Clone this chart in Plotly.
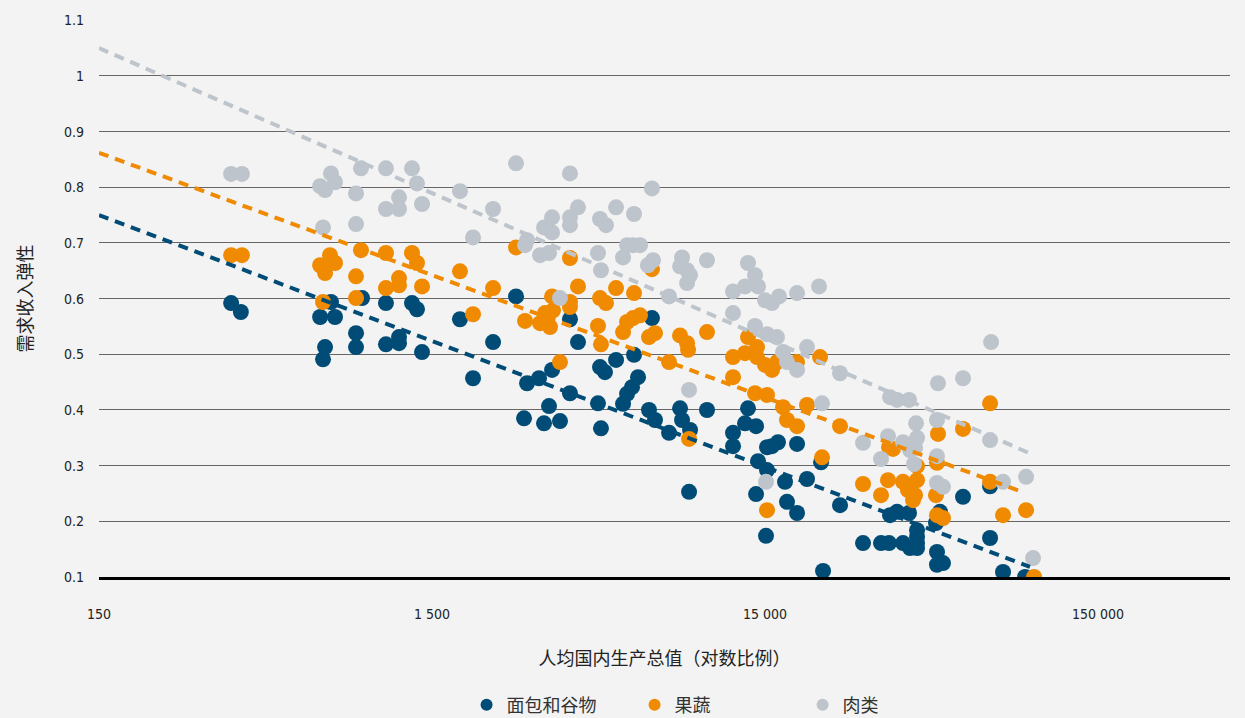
import plotly.graph_objects as go
import math

# ---------------- data ----------------
bread_gdp = [374, 400, 692, 706, 716, 746, 767, 887, 887, 925, 1091, 1091, 1194, 1194, 1306, 1352, 1400,
             1820, 1992, 2288, 2682, 2834, 2894, 3144, 3254, 3369, 3440, 3634, 3894, 3894, 4116, 4726, 4792,
             4825, 4960, 5355, 5620, 5778, 5980, 6064, 6234, 6724, 6865, 7009, 7726, 8336, 8452, 8871, 8932,
             10044, 12023, 12023, 13062, 13335, 14098, 14098, 14294, 15104, 15208, 15208, 15742, 16408, 17226,
             17462, 18718, 18718, 20057, 22096, 22404, 25197, 29540, 33449, 35354, 35599, 37367, 38949, 40598,
             40879, 42917, 42917, 42917, 42917, 49264, 50296, 48925, 49264, 51351, 58974, 71106, 71106, 77774, 90577]
bread_elas = [0.592, 0.576, 0.567, 0.491, 0.513, 0.594, 0.567, 0.538, 0.513, 0.601, 0.592, 0.518, 0.531, 0.520,
              0.592, 0.581, 0.504, 0.563, 0.457, 0.522, 0.604, 0.385, 0.448, 0.457, 0.376, 0.407, 0.472, 0.380,
              0.563, 0.430, 0.522, 0.412, 0.477, 0.367, 0.468, 0.490, 0.411, 0.429, 0.441, 0.499, 0.459, 0.400,
              0.565, 0.382, 0.359, 0.403, 0.382, 0.253, 0.364, 0.400, 0.359, 0.335, 0.376, 0.403, 0.371, 0.249,
              0.308, 0.174, 0.333, 0.292, 0.335, 0.342, 0.271, 0.235, 0.215, 0.339, 0.276, 0.306, 0.111, 0.229,
              0.161, 0.161, 0.161, 0.211, 0.217, 0.161, 0.215, 0.152, 0.152, 0.184, 0.172, 0.161, 0.145, 0.217,
              0.197, 0.122, 0.125, 0.244, 0.263, 0.170, 0.109, 0.100]

fruit_gdp = [374, 403, 692, 741, 767, 716, 706, 887, 887, 918, 1091, 1091, 1194, 1194, 1306, 1352, 1400,
             1820, 1992, 2288, 2682, 2854, 3166, 3277, 3392, 3464, 3440, 3634, 3894, 3894, 3894, 4116, 4726,
             4792, 4825, 4995, 5355, 5620, 5778, 6022, 6321, 6064, 6865, 6724, 7009, 7726, 8336, 8749, 8810,
             8871, 10044, 12023, 12023, 13062, 13335, 14195, 14195, 15000, 15742, 16295, 18718, 14001, 15208,
             16989, 17462, 18718, 20057, 21944, 25197, 22249, 15208, 29540, 33449, 35111, 35354, 36350, 38949,
             40879, 42917, 40318, 42329, 41738, 42917, 49264, 49605, 48925, 49264, 51351, 58974, 71106, 71106,
             77774, 91205, 96376]
fruit_elas = [0.678, 0.678, 0.660, 0.678, 0.664, 0.646, 0.594, 0.601, 0.640, 0.687, 0.682, 0.619, 0.624, 0.637,
              0.682, 0.664, 0.622, 0.649, 0.572, 0.619, 0.692, 0.560, 0.556, 0.574, 0.549, 0.579, 0.604, 0.486,
              0.673, 0.594, 0.585, 0.622, 0.551, 0.601, 0.518, 0.592, 0.619, 0.540, 0.558, 0.565, 0.570, 0.610,
              0.653, 0.531, 0.538, 0.486, 0.534, 0.520, 0.508, 0.348, 0.540, 0.495, 0.459, 0.502, 0.531, 0.513,
              0.495, 0.481, 0.472, 0.486, 0.486, 0.430, 0.427, 0.405, 0.382, 0.371, 0.409, 0.495, 0.371, 0.315,
              0.220, 0.267, 0.247, 0.274, 0.333, 0.330, 0.271, 0.262, 0.274, 0.256, 0.247, 0.238, 0.299, 0.305,
              0.357, 0.247, 0.211, 0.206, 0.366, 0.412, 0.271, 0.211, 0.220, 0.100]

meat_gdp = [374, 403, 692, 716, 746, 767, 706, 887, 887, 918, 1091, 1091, 1194, 1194, 1306, 1352, 1400,
            1820, 1992, 2288, 2682, 2854, 2894, 3166, 3254, 3369, 3440, 3440, 3634, 3894, 3894, 3894, 4116,
            4726, 4792, 4825, 4995, 5355, 5620, 5778, 6022, 6321, 6064, 6865, 6676, 6913, 7726, 8452, 8336,
            8749, 8932, 8749, 8871, 10044, 12023, 12023, 13062, 13335, 14001, 14294, 15000, 15742, 16522,
            18718, 14001, 15208, 16295, 16989, 17462, 18718, 20057, 21792, 22249, 25197, 15104, 29540, 33449,
            35111, 35599, 37367, 40598, 38949, 42622, 42917, 42329, 40879, 42027, 49264, 49605, 58974, 49264,
            49264, 51351, 71599, 71106, 77774, 91205, 95712]
meat_elas = [0.824, 0.824, 0.802, 0.795, 0.825, 0.809, 0.728, 0.789, 0.734, 0.834, 0.834, 0.761, 0.761, 0.782,
             0.834, 0.807, 0.770, 0.793, 0.710, 0.761, 0.843, 0.696, 0.705, 0.678, 0.728, 0.682, 0.746, 0.719,
             0.601, 0.825, 0.746, 0.732, 0.764, 0.682, 0.743, 0.651, 0.732, 0.764, 0.674, 0.696, 0.696, 0.696,
             0.752, 0.798, 0.660, 0.669, 0.604, 0.674, 0.658, 0.651, 0.642, 0.628, 0.436, 0.669, 0.613, 0.574,
             0.622, 0.664, 0.642, 0.622, 0.597, 0.592, 0.604, 0.610, 0.551, 0.536, 0.531, 0.504, 0.486, 0.472,
             0.513, 0.622, 0.412, 0.466, 0.271, 0.341, 0.312, 0.353, 0.423, 0.418, 0.418, 0.342, 0.376, 0.350,
             0.332, 0.328, 0.303, 0.382, 0.448, 0.457, 0.317, 0.269, 0.262, 0.522, 0.346, 0.271, 0.280, 0.134]

# fitted trend lines (start / end)
bread_trend_gdp = [150, 93700]
bread_trend_elas = [0.750, 0.118]
fruit_trend_gdp = [150, 88700]
fruit_trend_elas = [0.862, 0.253]
meat_trend_gdp = [150, 93700]
meat_trend_elas = [1.050, 0.322]

series_names = ["面包和谷物", "果蔬", "肉类"]
x_tick_vals = [150, 1500, 15000, 150000]
x_tick_text = ["150", "1 500", "15 000", "150 000"]
y_tick_vals = [0.1, 0.2, 0.3, 0.4, 0.5, 0.6, 0.7, 0.8, 0.9, 1.0, 1.1]
y_tick_text = ["0.1", "0.2", "0.3", "0.4", "0.5", "0.6", "0.7", "0.8", "0.9", "1", "1.1"]

# ---------------- style ----------------
BLUE = "#004C76"
ORANGE = "#F08A00"
GREY = "#BDC4CB"
BG = "#F2F3F2"
FONT = "Liberation Sans Narrow, DejaVu Sans Condensed, Noto Sans CJK SC, sans-serif"

fig = go.Figure()
for name, xs, ys, col in [(series_names[0], bread_gdp, bread_elas, BLUE),
                          (series_names[1], fruit_gdp, fruit_elas, ORANGE),
                          (series_names[2], meat_gdp, meat_elas, GREY)]:
    fig.add_trace(go.Scatter(x=xs, y=ys, mode="markers", name=name,
                             marker=dict(size=16, color=col, line=dict(width=0))))

for xs, ys, col in [(bread_trend_gdp, bread_trend_elas, BLUE),
                    (fruit_trend_gdp, fruit_trend_elas, ORANGE),
                    (meat_trend_gdp, meat_trend_elas, GREY)]:
    fig.add_trace(go.Scatter(x=xs, y=ys, mode="lines", showlegend=False, hoverinfo="skip",
                             line=dict(color=col, width=4, dash="10px,7px")))

fig.update_layout(
    width=1245, height=718,
    paper_bgcolor=BG, plot_bgcolor=BG,
    margin=dict(l=99, r=15, t=20, b=141),
    font=dict(family=FONT, size=14, color="#222222"),
    showlegend=True,
    legend=dict(orientation="h", x=0.325, xanchor="left", yref="container", y=0.018, yanchor="middle",
                font=dict(size=18, color="#333333"), entrywidth=123, itemsizing="constant",
                bgcolor="rgba(0,0,0,0)"),
    xaxis=dict(type="log", range=[math.log10(150), math.log10(373600)],
               tickvals=x_tick_vals, ticktext=x_tick_text, showgrid=False, zeroline=False,
               showline=True, linecolor="#000000", linewidth=3, ticks="", ticklabelstandoff=22,
               tickfont=dict(size=14),
               title=dict(text="人均国内生产总值（对数比例）", font=dict(size=18), standoff=32)),
    yaxis=dict(range=[0.1, 1.1005], tickvals=y_tick_vals, ticktext=y_tick_text,
               showgrid=True, gridcolor="#666666", gridwidth=1, zeroline=False, showline=False,
               ticks="", ticklabelstandoff=14, tickfont=dict(size=14),
               title=dict(text="需求收入弹性", font=dict(size=18), standoff=26)),
)

fig.write_html("out.html", config={"displayModeBar": False},
               post_script="document.body.style.margin='0';document.body.style.background='" + BG + "';")
